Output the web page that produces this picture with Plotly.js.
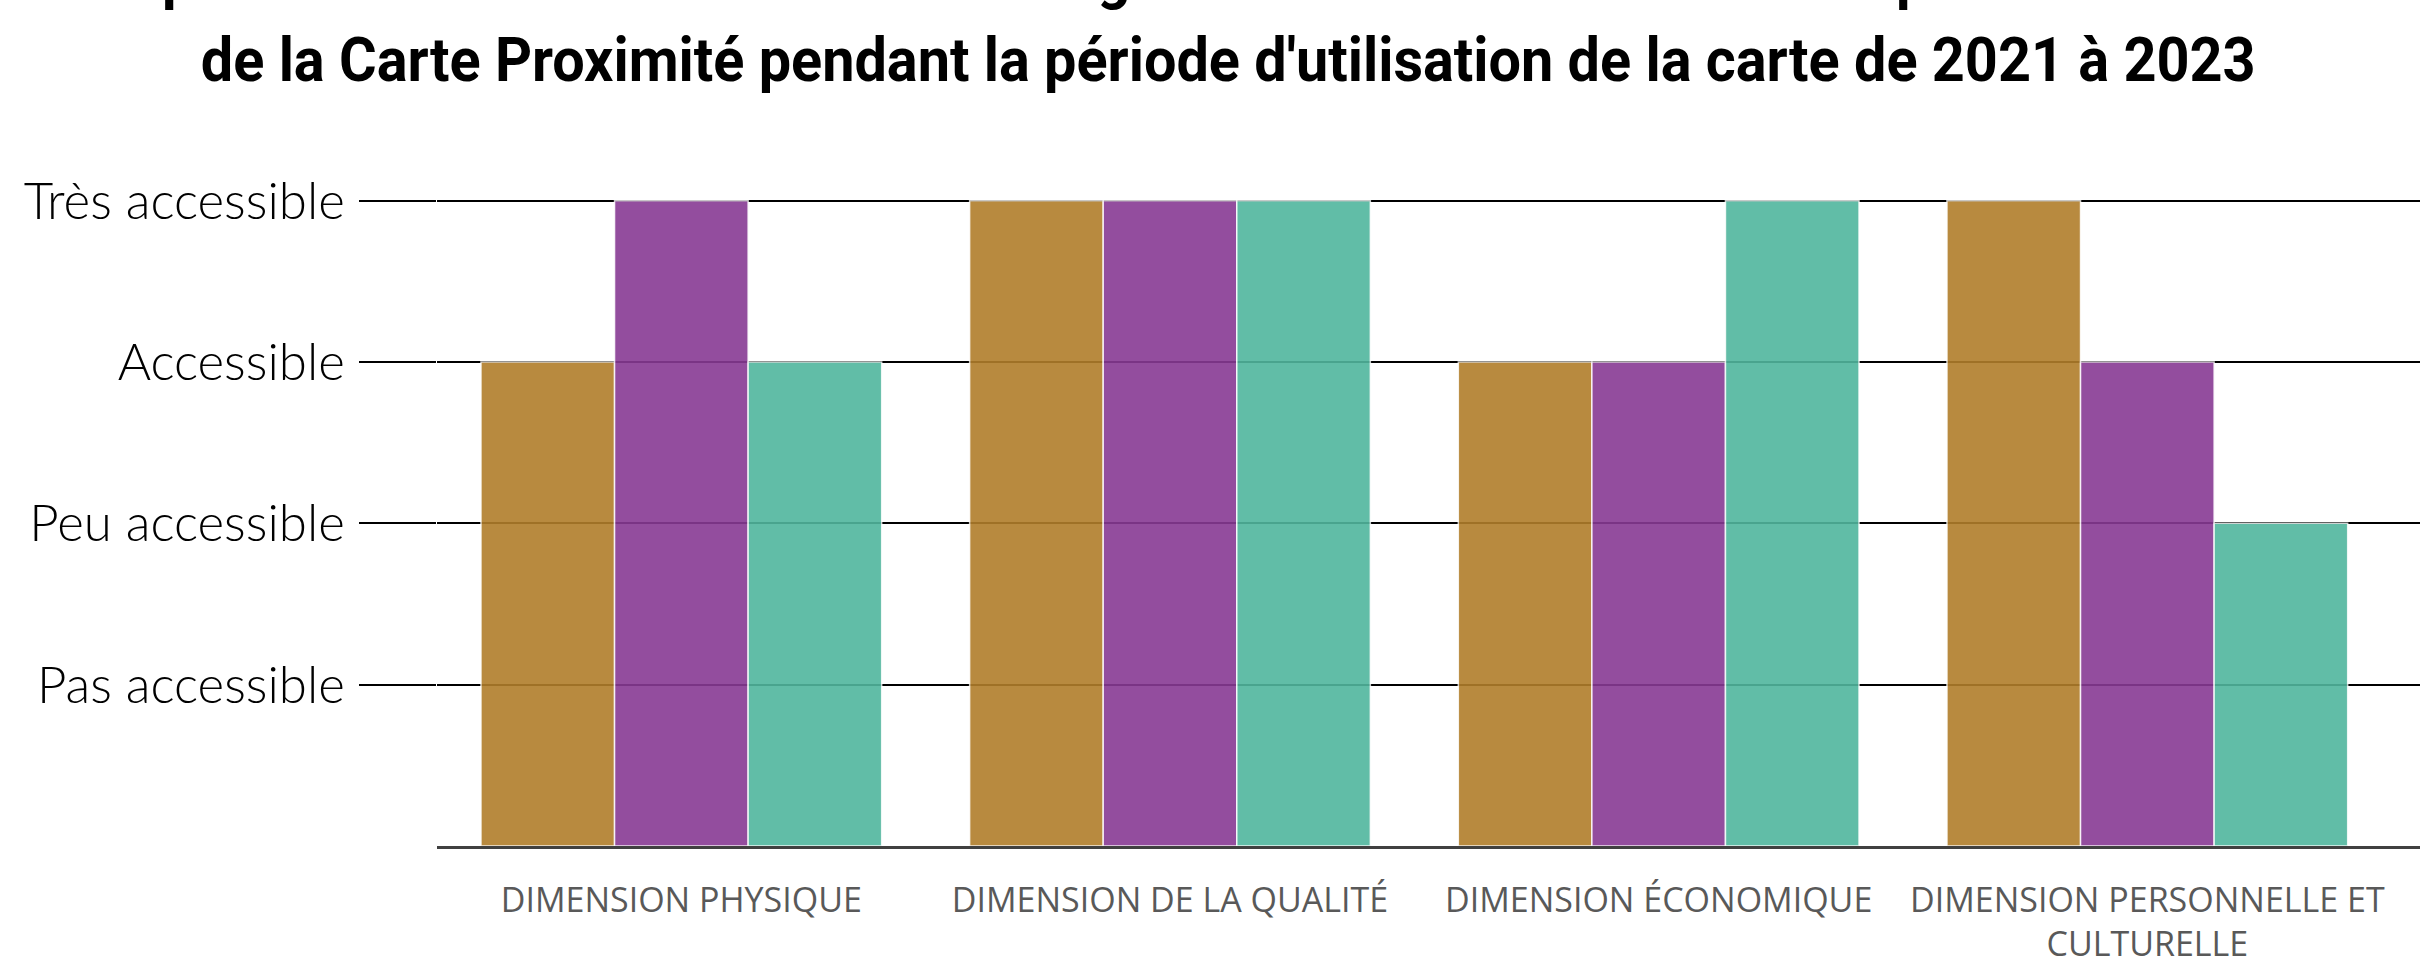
<!DOCTYPE html>
<html>
<head>
<meta charset="utf-8">
<script src="https://cdn.plot.ly/plotly-3.0.1.min.js"></script>
<style>
  html, body { margin: 0; padding: 0; background: #ffffff; }
  #chart { width: 2420px; height: 960px; }
</style>
</head>
<body>
<div id="chart"></div>
<script>
// Categories (x axis)
const categories = [
  "DIMENSION PHYSIQUE",
  "DIMENSION DE LA QUALITÉ",
  "DIMENSION ÉCONOMIQUE",
  "DIMENSION PERSONNELLE ET<br>CULTURELLE"
];

// Accessibility scale (y axis)
const levelValues = [1, 2, 3, 4];
const levelLabels = ["Pas accessible", "Peu accessible", "Accessible", "Très accessible"];

// Series (1 = Pas accessible ... 4 = Très accessible)
const seriesNames = ["2021", "2022", "2023"];
const series1 = [3, 4, 3, 4];
const series2 = [4, 4, 3, 3];
const series3 = [3, 4, 4, 2];

const seriesColors = ["rgb(177,126,43)", "rgb(136,58,148)", "rgb(81,182,158)"];
const allSeries = [series1, series2, series3];

const titleLine1 = "Répartition des niveaux d'accessibilité générale selon les dimensions pour les membres";
const titleLine2 = "de la Carte Proximité pendant la période d'utilisation de la carte de 2021 à 2023";

const traces = allSeries.map((vals, i) => ({
  type: "bar",
  name: seriesNames[i],
  x: categories,
  y: vals,
  marker: {
    color: seriesColors[i],
    opacity: 0.9,
    line: { color: "rgba(255,255,255,0.85)", width: 1.5 }
  },
  hoverinfo: "x+y+name",
  showlegend: false
}));

const titleFont = { family: "Roboto, 'DejaVu Sans', sans-serif", size: 62, color: "#000000", weight: 700 };

const layout = {
  width: 2420,
  height: 960,
  margin: { l: 437, r: 0, t: 120, b: 114, pad: 0 },
  paper_bgcolor: "#ffffff",
  plot_bgcolor: "#ffffff",
  barmode: "group",
  bargap: 0.18,
  bargroupgap: 0,
  showlegend: false,
  xaxis: {
    type: "category",
    range: [-0.5, 3.558],
    showgrid: false,
    zeroline: false,
    showline: true,
    linecolor: "#404040",
    linewidth: 3,
    ticks: "",
    ticklabelstandoff: 22,
    tickfont: { family: "'Open Sans', sans-serif", size: 34, color: "#595959" }
  },
  yaxis: {
    range: [0, 4.5],
    tickvals: levelValues,
    ticktext: levelLabels,
    showgrid: true,
    gridcolor: "#000000",
    gridwidth: 2,
    zeroline: false,
    showline: false,
    ticks: "outside",
    ticklen: 77,
    tickwidth: 2,
    tickcolor: "#000000",
    ticklabelstandoff: 4,
    tickfont: { family: "Lato, sans-serif", size: 51, color: "#000000", weight: 300 }
  },
  annotations: [
    {
      text: titleLine1,
      xref: "paper", yref: "paper",
      x: 0.399, y: 1.197,
      xanchor: "center", yanchor: "middle",
      showarrow: false,
      font: titleFont
    },
    {
      text: titleLine2,
      xref: "paper", yref: "paper",
      x: 0.399, y: 1.083,
      xanchor: "center", yanchor: "middle",
      showarrow: false,
      font: titleFont
    }
  ]
};

// Narrow the bold title text horizontally to match the condensed title face
function condenseTitles(gd) {
  const targetWidth = 2055;
  const texts = gd.querySelectorAll(".annotation-text");
  let scale = null;
  texts.forEach((t) => {
    if (t.textContent === titleLine2) {
      const w = t.getBBox().width;
      if (w > 0) scale = targetWidth / w;
    }
  });
  if (!scale) return;
  texts.forEach((t) => {
    const bb = t.getBBox();
    const cx = bb.x + bb.width / 2;
    t.setAttribute("transform", `translate(${cx},0) scale(${scale},1) translate(${-cx},0)`);
  });
}

Plotly.newPlot("chart", traces, layout, { displayModeBar: false }).then(condenseTitles);
</script>
</body>
</html>
